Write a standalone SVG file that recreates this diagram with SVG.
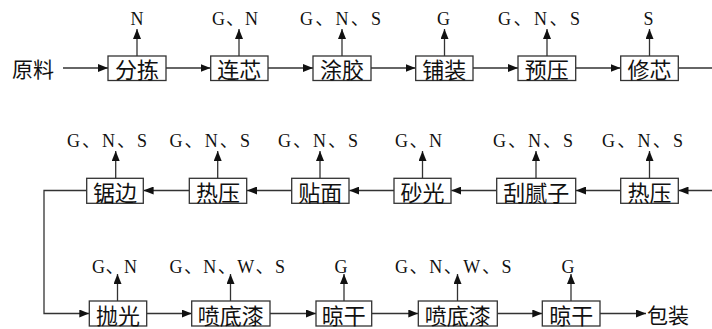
<svg xmlns="http://www.w3.org/2000/svg" width="712" height="329" viewBox="0 0 712 329">
<style>
.box{fill:#fff;stroke:#333;stroke-width:1.3}
.bt{font-family:"Noto Sans CJK SC","Noto Sans",sans-serif;font-size:22px;fill:#111;text-anchor:middle;dominant-baseline:central}
.tt{font-family:"Noto Sans CJK SC","Noto Sans",sans-serif;font-size:21px;fill:#111;dominant-baseline:central}
.lb{font-family:"Liberation Serif","Noto Sans CJK SC",serif;font-size:18px;fill:#111}
.ln{fill:none;stroke:#333;stroke-width:1.3}
</style>
<defs>
<marker id="ah" viewBox="0 0 10 8" refX="10" refY="4" markerWidth="10" markerHeight="8" markerUnits="userSpaceOnUse" orient="auto">
<path d="M0,0 L10,4 L0,8 z" fill="#111"/>
</marker>
</defs>

<g id="connectors" class="ln" marker-end="url(#ah)">
<!-- row 1 -->
<line x1="63" y1="68" x2="108" y2="68"/>
<line x1="166" y1="68" x2="210.5" y2="68"/>
<line x1="268" y1="68" x2="313" y2="68"/>
<line x1="371" y1="68" x2="415.5" y2="68"/>
<line x1="473" y1="68" x2="518" y2="68"/>
<line x1="576" y1="68" x2="620.5" y2="68"/>
<line x1="678.5" y1="68" x2="712" y2="68" marker-end="none"/>
<!-- row 1 up -->
<line x1="137" y1="56" x2="137" y2="29"/>
<line x1="239" y1="56" x2="239" y2="29"/>
<line x1="342" y1="56" x2="342" y2="29"/>
<line x1="444.5" y1="56" x2="444.5" y2="29"/>
<line x1="547" y1="56" x2="547" y2="29"/>
<line x1="649.5" y1="56" x2="649.5" y2="29"/>
<!-- row 2 -->
<line x1="712" y1="190.5" x2="678.5" y2="190.5"/>
<line x1="620.7" y1="190.5" x2="576" y2="190.5"/>
<line x1="496.7" y1="190.5" x2="451.3" y2="190.5"/>
<line x1="394" y1="190.5" x2="349.3" y2="190.5"/>
<line x1="291.7" y1="190.5" x2="247" y2="190.5"/>
<line x1="189.3" y1="190.5" x2="143.6" y2="190.5"/>
<polyline points="86.7,190.5 44,190.5 44,313.5 89.3,313.5"/>
<!-- row 2 up -->
<line x1="115.7" y1="178" x2="115.7" y2="151"/>
<line x1="217.7" y1="178" x2="217.7" y2="151"/>
<line x1="320" y1="178" x2="320" y2="151"/>
<line x1="422.5" y1="178" x2="422.5" y2="151"/>
<line x1="536" y1="178" x2="536" y2="151"/>
<line x1="649.5" y1="178" x2="649.5" y2="151"/>
<!-- row 3 -->
<line x1="146.7" y1="313.5" x2="191.7" y2="313.5"/>
<line x1="270" y1="313.5" x2="316" y2="313.5"/>
<line x1="371.7" y1="313.5" x2="418.3" y2="313.5"/>
<line x1="497.3" y1="313.5" x2="542.3" y2="313.5"/>
<line x1="600" y1="313.5" x2="646" y2="313.5"/>
<!-- row 3 up -->
<line x1="117.5" y1="301" x2="117.5" y2="274"/>
<line x1="230.5" y1="301" x2="230.5" y2="274"/>
<line x1="344" y1="301" x2="344" y2="274"/>
<line x1="457.5" y1="301" x2="457.5" y2="274"/>
<line x1="571" y1="301" x2="571" y2="274"/>
</g>

<text class="tt" x="12" y="68">原料</text>
<text class="tt" x="647" y="313.5">包装</text>

<!-- row 1 nodes -->
<g id="n-fenjian"><rect class="box" x="108" y="56" width="58" height="24.5"/><text class="bt" x="137" y="68.3">分拣</text><text class="lb" x="137" y="25" text-anchor="middle">N</text></g>
<g id="n-lianxin"><rect class="box" x="210.7" y="56" width="57.3" height="24.5"/><text class="bt" x="239.3" y="68.3">连芯</text><text class="lb" x="212" y="25" textLength="46" lengthAdjust="spacing">G、N</text></g>
<g id="n-tujiao"><rect class="box" x="313" y="56" width="58" height="24.5"/><text class="bt" x="342" y="68.3">涂胶</text><text class="lb" x="300" y="25" textLength="81" lengthAdjust="spacing">G、N、S</text></g>
<g id="n-puzhuang"><rect class="box" x="415.7" y="56" width="57.3" height="24.5"/><text class="bt" x="444.3" y="68.3">铺装</text><text class="lb" x="443.5" y="25" text-anchor="middle">G</text></g>
<g id="n-yuya"><rect class="box" x="518" y="56" width="57.7" height="24.5"/><text class="bt" x="546.8" y="68.3">预压</text><text class="lb" x="498" y="25" textLength="82" lengthAdjust="spacing">G、N、S</text></g>
<g id="n-xiuxin"><rect class="box" x="620.7" y="56" width="57.6" height="24.5"/><text class="bt" x="649.5" y="68.3">修芯</text><text class="lb" x="648.5" y="25" text-anchor="middle">S</text></g>

<!-- row 2 nodes -->
<g id="n-rexa2"><rect class="box" x="620.7" y="178.3" width="57.6" height="25"/><text class="bt" x="649.5" y="190.8">热压</text><text class="lb" x="602" y="146.5" textLength="81" lengthAdjust="spacing">G、N、S</text></g>
<g id="n-guanizi"><rect class="box" x="496.7" y="178.3" width="79" height="25"/><text class="bt" x="536.2" y="190.8">刮腻子</text><text class="lb" x="493" y="147" textLength="80" lengthAdjust="spacing">G、N、S</text></g>
<g id="n-shaguang"><rect class="box" x="394" y="178.3" width="57" height="25"/><text class="bt" x="422.5" y="190.8">砂光</text><text class="lb" x="395" y="147" textLength="47" lengthAdjust="spacing">G、N</text></g>
<g id="n-tiemian"><rect class="box" x="291.7" y="178.3" width="57.3" height="25"/><text class="bt" x="320.3" y="190.8">贴面</text><text class="lb" x="278" y="147" textLength="80" lengthAdjust="spacing">G、N、S</text></g>
<g id="n-reya1"><rect class="box" x="189.3" y="178.3" width="57.4" height="25"/><text class="bt" x="218" y="190.8">热压</text><text class="lb" x="169.5" y="147" textLength="80.5" lengthAdjust="spacing">G、N、S</text></g>
<g id="n-jubian"><rect class="box" x="86.7" y="178.3" width="56.6" height="25"/><text class="bt" x="115" y="190.8">锯边</text><text class="lb" x="67" y="147" textLength="80" lengthAdjust="spacing">G、N、S</text></g>

<!-- row 3 nodes -->
<g id="n-paoguang"><rect class="box" x="89.3" y="301" width="57.4" height="25"/><text class="bt" x="118" y="313.8">抛光</text><text class="lb" x="92" y="272.5" textLength="45" lengthAdjust="spacing">G、N</text></g>
<g id="n-pendiqi1"><rect class="box" x="191.7" y="301" width="78.3" height="25"/><text class="bt" x="230.8" y="313.8">喷底漆</text><text class="lb" x="169.5" y="272.5" textLength="115.5" lengthAdjust="spacing">G、N、W、S</text></g>
<g id="n-lianggan1"><rect class="box" x="316" y="301" width="55.7" height="25"/><text class="bt" x="343.8" y="313.8">晾干</text><text class="lb" x="341" y="272.5" text-anchor="middle">G</text></g>
<g id="n-pendiqi2"><rect class="box" x="418.3" y="301" width="79" height="25"/><text class="bt" x="457.8" y="313.8">喷底漆</text><text class="lb" x="395" y="272.5" textLength="116.5" lengthAdjust="spacing">G、N、W、S</text></g>
<g id="n-lianggan2"><rect class="box" x="542.3" y="301" width="57.7" height="25"/><text class="bt" x="571.2" y="313.8">晾干</text><text class="lb" x="568" y="272.5" text-anchor="middle">G</text></g>
</svg>
